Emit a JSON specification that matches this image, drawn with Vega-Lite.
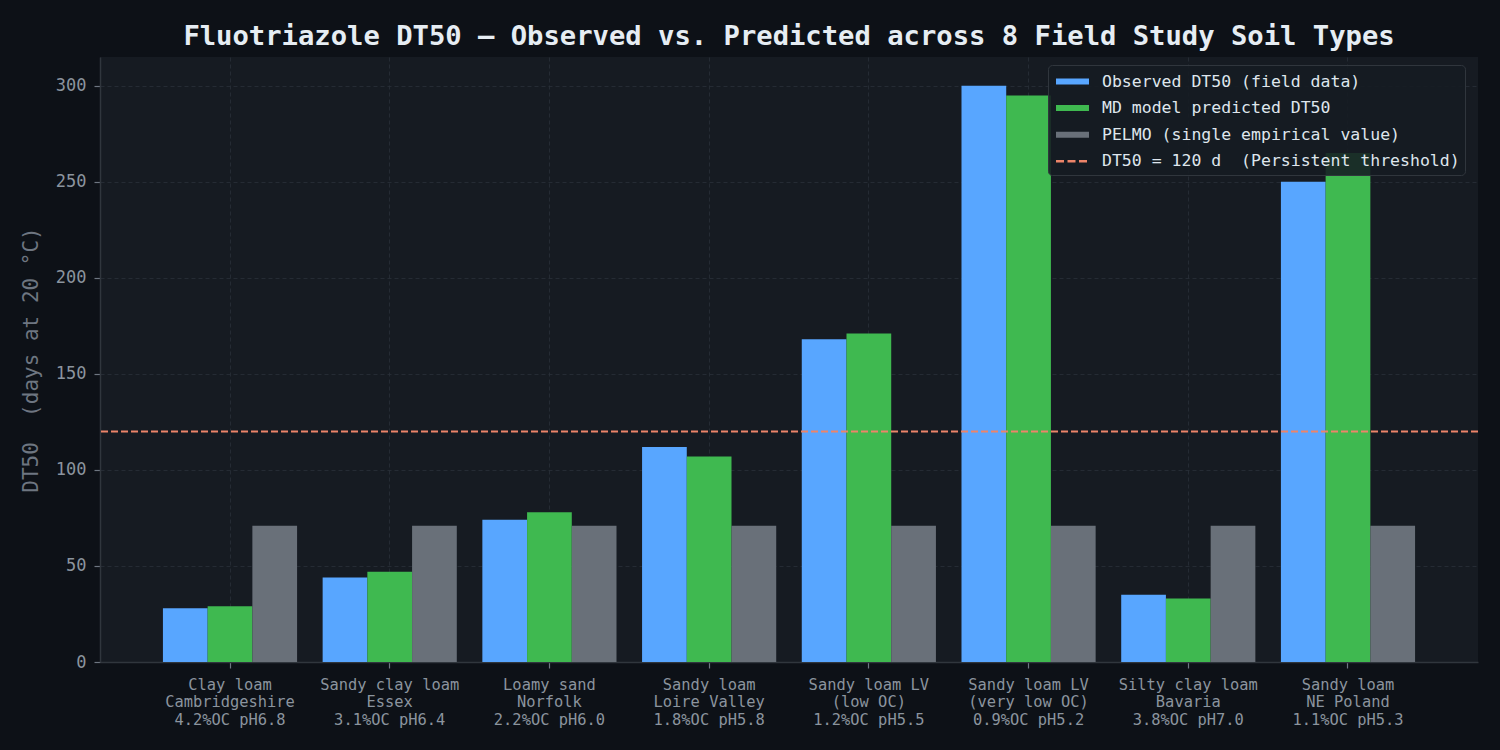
{
  "$schema": "https://vega.github.io/schema/vega-lite/v6.json",
  "autosize": "none",
  "width": 1378,
  "height": 605,
  "padding": {"left": 100, "top": 57, "right": 22, "bottom": 88},
  "background": "#0d1117",
  "title": {
    "text": "Fluotriazole DT50 — Observed vs. Predicted across 8 Field Study Soil Types",
    "anchor": "middle",
    "frame": "group",
    "font": "DejaVu Sans Mono",
    "fontSize": 27.2,
    "fontWeight": "bold",
    "color": "#e6edf3",
    "offset": 6
  },
  "datasets": {
    "dt50": [
      {"soil": "Clay loam|Cambridgeshire|4.2%OC pH6.8", "series": "Observed DT50 (field data)", "dt50": 28},
      {"soil": "Clay loam|Cambridgeshire|4.2%OC pH6.8", "series": "MD model predicted DT50", "dt50": 29},
      {"soil": "Clay loam|Cambridgeshire|4.2%OC pH6.8", "series": "PELMO (single empirical value)", "dt50": 71},
      {"soil": "Sandy clay loam|Essex|3.1%OC pH6.4", "series": "Observed DT50 (field data)", "dt50": 44},
      {"soil": "Sandy clay loam|Essex|3.1%OC pH6.4", "series": "MD model predicted DT50", "dt50": 47},
      {"soil": "Sandy clay loam|Essex|3.1%OC pH6.4", "series": "PELMO (single empirical value)", "dt50": 71},
      {"soil": "Loamy sand|Norfolk|2.2%OC pH6.0", "series": "Observed DT50 (field data)", "dt50": 74},
      {"soil": "Loamy sand|Norfolk|2.2%OC pH6.0", "series": "MD model predicted DT50", "dt50": 78},
      {"soil": "Loamy sand|Norfolk|2.2%OC pH6.0", "series": "PELMO (single empirical value)", "dt50": 71},
      {"soil": "Sandy loam|Loire Valley|1.8%OC pH5.8", "series": "Observed DT50 (field data)", "dt50": 112},
      {"soil": "Sandy loam|Loire Valley|1.8%OC pH5.8", "series": "MD model predicted DT50", "dt50": 107},
      {"soil": "Sandy loam|Loire Valley|1.8%OC pH5.8", "series": "PELMO (single empirical value)", "dt50": 71},
      {"soil": "Sandy loam LV|(low OC)|1.2%OC pH5.5", "series": "Observed DT50 (field data)", "dt50": 168},
      {"soil": "Sandy loam LV|(low OC)|1.2%OC pH5.5", "series": "MD model predicted DT50", "dt50": 171},
      {"soil": "Sandy loam LV|(low OC)|1.2%OC pH5.5", "series": "PELMO (single empirical value)", "dt50": 71},
      {"soil": "Sandy loam LV|(very low OC)|0.9%OC pH5.2", "series": "Observed DT50 (field data)", "dt50": 300},
      {"soil": "Sandy loam LV|(very low OC)|0.9%OC pH5.2", "series": "MD model predicted DT50", "dt50": 295},
      {"soil": "Sandy loam LV|(very low OC)|0.9%OC pH5.2", "series": "PELMO (single empirical value)", "dt50": 71},
      {"soil": "Silty clay loam|Bavaria|3.8%OC pH7.0", "series": "Observed DT50 (field data)", "dt50": 35},
      {"soil": "Silty clay loam|Bavaria|3.8%OC pH7.0", "series": "MD model predicted DT50", "dt50": 33},
      {"soil": "Silty clay loam|Bavaria|3.8%OC pH7.0", "series": "PELMO (single empirical value)", "dt50": 71},
      {"soil": "Sandy loam|NE Poland|1.1%OC pH5.3", "series": "Observed DT50 (field data)", "dt50": 250},
      {"soil": "Sandy loam|NE Poland|1.1%OC pH5.3", "series": "MD model predicted DT50", "dt50": 265},
      {"soil": "Sandy loam|NE Poland|1.1%OC pH5.3", "series": "PELMO (single empirical value)", "dt50": 71}
    ],
    "threshold": [{"label": "DT50 = 120 d  (Persistent threshold)", "dt50": 120}]
  },
  "layer": [
    {
      "data": {"name": "dt50"},
      "mark": {"type": "bar"},
      "encoding": {
        "x": {
          "field": "soil",
          "type": "nominal",
          "sort": null,
          "scale": {"paddingInner": 0.16, "paddingOuter": 0.394},
          "axis": {
            "title": null,
            "labelAngle": 0,
            "labelExpr": "split(datum.label, '|')",
            "labelFont": "DejaVu Sans Mono",
            "labelFontSize": 15.4,
            "labelLineHeight": 17.5,
            "labelColor": "#8b949e",
            "labelPadding": 9,
            "labelBaseline": "top",
            "labelLimit": 0,
            "labelOverlap": false,
            "bandPosition": 0.5,
            "tickSize": 6,
            "tickColor": "#6e7681",
            "tickWidth": 1.2,
            "domainColor": "#30363d",
            "domainWidth": 1.5,
            "grid": true,
            "gridColor": "#2a3038",
            "gridDash": [4, 3],
            "gridWidth": 0.8
          }
        },
        "xOffset": {
          "field": "series",
          "type": "nominal",
          "sort": ["Observed DT50 (field data)", "MD model predicted DT50", "PELMO (single empirical value)"],
          "scale": {"paddingInner": 0, "paddingOuter": 0}
        },
        "y": {
          "field": "dt50",
          "type": "quantitative",
          "scale": {"domain": [0, 315], "nice": false},
          "axis": {
            "title": "DT50\u00a0 (days at 20 °C)",
            "titleFont": "DejaVu Sans Mono",
            "titleFontSize": 21,
            "titleFontWeight": "normal",
            "titleColor": "#6e7681",
            "titlePadding": 14,
            "values": [0, 50, 100, 150, 200, 250, 300],
            "labelFont": "DejaVu Sans Mono",
            "labelFontSize": 17,
            "labelColor": "#8b949e",
            "labelPadding": 8,
            "tickSize": 6,
            "tickColor": "#6e7681",
            "tickWidth": 1.2,
            "domainColor": "#30363d",
            "domainWidth": 1.5,
            "grid": true,
            "gridColor": "#2a3038",
            "gridDash": [4, 3],
            "gridWidth": 0.8
          }
        },
        "color": {
          "field": "series",
          "type": "nominal",
          "scale": {
            "domain": ["Observed DT50 (field data)", "MD model predicted DT50", "PELMO (single empirical value)", "DT50 = 120 d\u00a0 (Persistent threshold)"],
            "range": ["#58a6ff", "#3fb950", "#697079", "#ec8469"]
          },
          "legend": {
            "title": null,
            "orient": "none",
            "legendX": 948,
            "legendY": 8,
            "direction": "vertical",
            "padding": 5,
            "fillColor": "rgba(22,27,34,0.88)",
            "strokeColor": "#30363d",
            "cornerRadius": 4,
            "labelFont": "DejaVu Sans Mono",
            "labelFontSize": 16.5,
            "labelColor": "#dfe6ed",
            "labelLimit": 0,
            "labelOffset": 18,
            "symbolSize": 400,
            "symbolOffset": 8,
            "rowPadding": 6.6,
            "symbolType": "M-1.65,-0.3H1.65V0.3H-1.65Z",
            "encode": {
              "symbols": {
                "update": {
                  "shape": [
                    {"test": "datum.index === 3", "value": "M-1.65,0H1.65"},
                    {"value": "M-1.65,-0.3H1.65V0.3H-1.65Z"}
                  ],
                  "fill": [
                    {"test": "datum.index === 3", "value": "transparent"},
                    {"scale": "color", "field": "value"}
                  ],
                  "stroke": [
                    {"test": "datum.index === 3", "value": "#ec8469"},
                    {"value": "transparent"}
                  ],
                  "strokeWidth": {"value": 2.4},
                  "strokeDash": [
                    {"test": "datum.index === 3", "value": [8, 3.5]},
                    {"value": []}
                  ],
                  "opacity": {"value": 1}
                }
              }
            }
          }
        }
      }
    },
    {
      "data": {"name": "threshold"},
      "mark": {"type": "rule", "color": "#ec8469", "strokeWidth": 2, "strokeDash": [7, 3]},
      "encoding": {
        "y": {"field": "dt50", "type": "quantitative"}
      }
    }
  ],
  "config": {
    "view": {"fill": "#161b22", "stroke": null},
    "axis": {"labelFont": "DejaVu Sans Mono", "titleFont": "DejaVu Sans Mono"}
  }
}
